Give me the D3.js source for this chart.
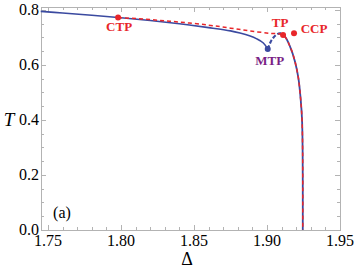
<!DOCTYPE html>
<html>
<head>
<meta charset="utf-8">
<script src="https://cdn.jsdelivr.net/npm/d3@7"></script>
<style>
  body { margin: 0; background: #fff; }
  svg { display: block; }
</style>
</head>
<body>
<div id="chart"></div>
<script>
// stable branch (solid blue)
const stableBranch = [
  [1.745, 0.795], [1.76, 0.789], [1.78, 0.781], [1.80, 0.772], [1.82, 0.762],
  [1.84, 0.750], [1.86, 0.736], [1.875, 0.724], [1.8815, 0.716], [1.888, 0.706],
  [1.893, 0.695], [1.8975, 0.680], [1.9005, 0.658]
];
// metastable part (dashed blue) from MTP up to the top
const metaBranch = [
  [1.9005, 0.658], [1.9032, 0.691], [1.9066, 0.711], [1.909, 0.715], [1.911, 0.711]
];
// descending branch (solid blue)
const descBranch = [
  [1.909, 0.715], [1.9123, 0.703], [1.9158, 0.667], [1.9192, 0.612], [1.9215, 0.552],
  [1.9231, 0.473], [1.924, 0.40], [1.9244, 0.29], [1.9245, 0.15], [1.9245, 0.0]
];
// red dashed transition line
const redLine = [
  [1.798, 0.773], [1.82, 0.765], [1.84, 0.756], [1.86, 0.745], [1.875, 0.734],
  [1.888, 0.724], [1.902, 0.715], [1.911, 0.709], [1.9158, 0.667], [1.9192, 0.612],
  [1.9215, 0.552], [1.9231, 0.473], [1.924, 0.40], [1.9244, 0.29], [1.9245, 0.15], [1.9245, 0.0]
];
const points = [
  { name: "CTP", x: 1.798, y: 0.773, color: "#e8262a", lx: 1, ly: 9 },
  { name: "MTP", x: 1.9005, y: 0.658, color: "#7a1f86", lx: 2, ly: 11 },
  { name: "TP", x: 1.911, y: 0.709, color: "#e8262a", lx: -3, ly: -13 },
  { name: "CCP", x: 1.9185, y: 0.715, color: "#e8262a", lx: 20, ly: -5 }
];
const xTicks = [1.75, 1.80, 1.85, 1.90, 1.95];
const xTickLabels = ["1.75", "1.80", "1.85", "1.90", "1.95"];
const yTicks = [0.0, 0.2, 0.4, 0.6, 0.8];
const yTickLabels = ["0.0", "0.2", "0.4", "0.6", "0.8"];

const width = 354, height = 271;
const m = { left: 41, right: 340, top: 7, bottom: 230 };
const serif = '"Liberation Serif"';

const x = d3.scaleLinear().domain([1.7452, 1.95]).range([m.left, m.right]);
const y = d3.scaleLinear().domain([0, 0.8109]).range([m.bottom, m.top]);

const svg = d3.select("#chart").append("svg")
  .attr("width", width).attr("height", height);

const frameColor = "#b3b3b3";

// minor + major ticks on all four sides
const xMinor = d3.range(1.75, 1.9501, 0.01);
const yMinor = d3.range(0, 0.8001, 0.05);
const tickG = svg.append("g").attr("stroke", frameColor).attr("stroke-width", 1);
xMinor.forEach(function(v){
  let major = xTicks.some(t => Math.abs(t - v) < 1e-6);
  let len = major ? 5 : 3;
  let px = Math.round(x(v)) + 0.5;
  tickG.append("line").attr("x1", px).attr("x2", px).attr("y1", m.bottom).attr("y2", m.bottom - len);
  tickG.append("line").attr("x1", px).attr("x2", px).attr("y1", m.top).attr("y2", m.top + len);
});
yMinor.forEach(function(v){
  let major = yTicks.some(t => Math.abs(t - v) < 1e-6);
  let len = major ? 5 : 3;
  let py = Math.round(y(v)) + 0.5;
  tickG.append("line").attr("y1", py).attr("y2", py).attr("x1", m.left).attr("x2", m.left + len);
  tickG.append("line").attr("y1", py).attr("y2", py).attr("x1", m.right).attr("x2", m.right - len);
});

svg.append("rect")
  .attr("x", m.left + 0.5).attr("y", m.top + 0.5)
  .attr("width", m.right - m.left).attr("height", m.bottom - m.top)
  .attr("fill", "none").attr("stroke", frameColor).attr("stroke-width", 1);

// tick labels
svg.append("g").selectAll("text").data(xTicks).join("text")
  .attr("x", d => x(d)).attr("y", m.bottom + 16)
  .attr("text-anchor", "middle").attr("font-size", 16)
  .style("font-family", serif)
  .text((d, i) => xTickLabels[i]);
svg.append("g").selectAll("text").data(yTicks).join("text")
  .attr("x", m.left - 2).attr("y", d => y(d) + 5)
  .attr("text-anchor", "end").attr("font-size", 16)
  .style("font-family", serif)
  .text((d, i) => yTickLabels[i]);

// axis titles
svg.append("text").attr("x", 187).attr("y", 265)
  .attr("text-anchor", "middle").attr("font-size", 18)
  .style("font-family", serif).text("Δ");
svg.append("text").attr("x", 9).attr("y", 126)
  .attr("text-anchor", "middle").attr("font-size", 19).attr("font-style", "italic")
  .style("font-family", serif).text("T");

svg.append("text").attr("x", 62).attr("y", 218)
  .attr("text-anchor", "middle").attr("font-size", 16)
  .style("font-family", serif).text("(a)");

// curves
const line = d3.line().x(d => x(d[0])).y(d => y(d[1])).curve(d3.curveCatmullRom);
const plotG = svg.append("g");

plotG.append("path").attr("d", line(stableBranch))
  .attr("fill", "none").attr("stroke", "#3b4aa0").attr("stroke-width", 1.6);
plotG.append("path").attr("d", line(descBranch))
  .attr("fill", "none").attr("stroke", "#3b4aa0").attr("stroke-width", 1.8);
plotG.append("path").attr("d", line(metaBranch))
  .attr("fill", "none").attr("stroke", "#3b4aa0").attr("stroke-width", 2.2)
  .attr("stroke-dasharray", "4,2");
plotG.append("path").attr("d", line(redLine))
  .attr("fill", "none").attr("stroke", "#e8262a").attr("stroke-width", 1.5)
  .attr("stroke-dasharray", "4,3");

// special points
points.forEach(function(p){
  plotG.append("circle").attr("cx", x(p.x)).attr("cy", y(p.y)).attr("r", 3)
    .attr("fill", p.name == "MTP" ? "#3b4aa0" : p.color);
  plotG.append("text").attr("x", x(p.x) + p.lx).attr("y", y(p.y) + p.ly + 5)
    .attr("text-anchor", "middle").attr("font-size", 13).attr("font-weight", "bold")
    .style("font-family", serif)
    .attr("fill", p.color).text(p.name);
});
</script>
</body>
</html>
